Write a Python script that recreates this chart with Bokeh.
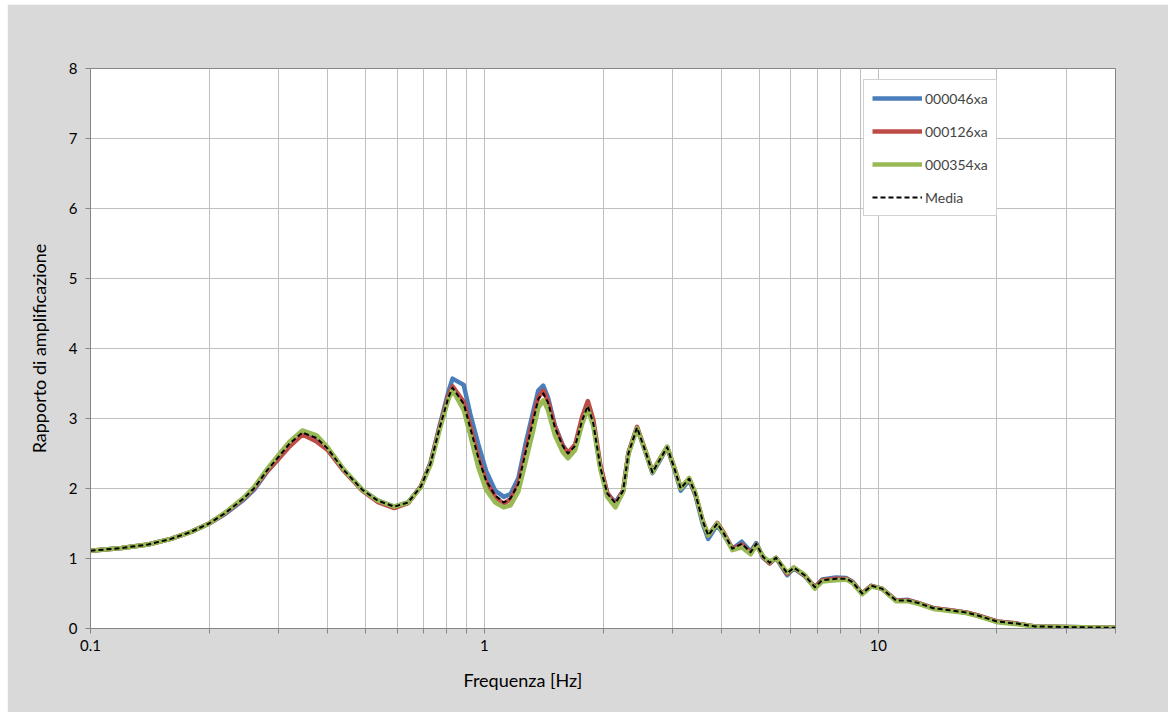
from bokeh.plotting import figure
from bokeh.models import FixedTicker, CustomJSTickFormatter, Legend, LegendItem, Title
from bokeh.embed import file_html
from bokeh.resources import INLINE

# ---- data ----
freq = [0.10, 0.12, 0.14, 0.16, 0.18, 0.20, 0.22, 0.245, 0.26, 0.28, 0.30, 0.32, 0.345, 0.375,
        0.40, 0.44, 0.49, 0.535, 0.59, 0.64, 0.69, 0.73, 0.77, 0.81, 0.83, 0.886, 0.92, 0.965,
        1.01, 1.065, 1.12, 1.165, 1.22, 1.27, 1.33, 1.37, 1.41, 1.45, 1.51, 1.58, 1.63, 1.70,
        1.77, 1.83, 1.89, 1.97, 2.05, 2.15, 2.25, 2.32, 2.44, 2.56, 2.67, 2.80, 2.91, 3.03,
        3.15, 3.31, 3.43, 3.58, 3.70, 3.90, 4.05, 4.26, 4.50, 4.74, 4.90, 5.10, 5.30, 5.50,
        5.87, 6.10, 6.50, 6.90, 7.20, 7.80, 8.30, 8.60, 9.10, 9.60, 10.2, 11.1, 11.9, 12.7,
        13.8, 15.2, 16.7, 17.8, 20.0, 22.5, 25.0, 30.0, 40.0]

media = [1.11, 1.15, 1.20, 1.28, 1.38, 1.50, 1.65, 1.86, 2.00, 2.25, 2.45, 2.64, 2.80, 2.72,
         2.57, 2.26, 1.98, 1.83, 1.74, 1.80, 2.03, 2.36, 2.87, 3.30, 3.44, 3.21, 2.87, 2.44,
         2.11, 1.90, 1.80, 1.86, 2.07, 2.50, 2.97, 3.28, 3.36, 3.23, 2.87, 2.61, 2.50, 2.61,
         2.97, 3.18, 2.93, 2.30, 1.93, 1.79, 1.97, 2.50, 2.87, 2.54, 2.23, 2.43, 2.59, 2.30,
         2.00, 2.14, 1.93, 1.54, 1.33, 1.50, 1.36, 1.14, 1.21, 1.09, 1.21, 1.02, 0.94, 1.01,
         0.79, 0.87, 0.76, 0.59, 0.69, 0.71, 0.71, 0.66, 0.50, 0.61, 0.57, 0.40, 0.40, 0.36,
         0.29, 0.26, 0.23, 0.19, 0.10, 0.07, 0.03, 0.02, 0.01]

s046 = [1.11, 1.15, 1.20, 1.28, 1.38, 1.50, 1.64, 1.84, 1.98, 2.23, 2.43, 2.62, 2.79, 2.72,
        2.57, 2.26, 1.98, 1.83, 1.74, 1.80, 2.03, 2.37, 2.90, 3.38, 3.57, 3.48, 3.07, 2.63,
        2.25, 1.97, 1.88, 1.92, 2.15, 2.62, 3.10, 3.40, 3.47, 3.30, 2.90, 2.62, 2.51, 2.60,
        2.95, 3.16, 2.92, 2.30, 1.93, 1.80, 1.97, 2.50, 2.87, 2.53, 2.22, 2.42, 2.59, 2.29,
        1.97, 2.12, 1.91, 1.50, 1.28, 1.48, 1.34, 1.14, 1.24, 1.10, 1.22, 1.01, 0.93, 1.01,
        0.76, 0.86, 0.75, 0.59, 0.70, 0.73, 0.72, 0.67, 0.50, 0.61, 0.57, 0.40, 0.41, 0.36,
        0.29, 0.26, 0.23, 0.19, 0.10, 0.07, 0.03, 0.02, 0.01]

s126 = [1.11, 1.15, 1.20, 1.28, 1.38, 1.50, 1.65, 1.86, 2.00, 2.24, 2.42, 2.60, 2.77, 2.67,
        2.55, 2.25, 1.97, 1.81, 1.72, 1.79, 2.03, 2.36, 2.88, 3.32, 3.46, 3.24, 2.90, 2.44,
        2.10, 1.88, 1.78, 1.85, 2.07, 2.50, 3.00, 3.30, 3.40, 3.25, 2.88, 2.61, 2.51, 2.63,
        3.02, 3.25, 2.98, 2.33, 1.94, 1.77, 1.97, 2.51, 2.88, 2.55, 2.24, 2.44, 2.59, 2.31,
        2.01, 2.14, 1.93, 1.55, 1.33, 1.51, 1.37, 1.14, 1.20, 1.08, 1.20, 1.02, 0.93, 1.01,
        0.78, 0.87, 0.76, 0.59, 0.69, 0.71, 0.71, 0.66, 0.50, 0.61, 0.57, 0.40, 0.40, 0.36,
        0.29, 0.26, 0.23, 0.19, 0.10, 0.07, 0.03, 0.02, 0.01]

s354 = [1.11, 1.15, 1.20, 1.28, 1.38, 1.50, 1.66, 1.87, 2.02, 2.27, 2.48, 2.67, 2.83, 2.76,
        2.59, 2.27, 1.98, 1.83, 1.74, 1.80, 2.02, 2.34, 2.84, 3.27, 3.41, 3.12, 2.77, 2.30,
        1.98, 1.80, 1.73, 1.76, 1.96, 2.36, 2.83, 3.15, 3.26, 3.12, 2.76, 2.52, 2.43, 2.55,
        2.92, 3.14, 2.89, 2.27, 1.88, 1.73, 1.95, 2.49, 2.86, 2.54, 2.23, 2.44, 2.60, 2.31,
        2.00, 2.15, 1.94, 1.54, 1.33, 1.50, 1.35, 1.12, 1.16, 1.06, 1.19, 1.03, 0.95, 1.01,
        0.80, 0.87, 0.77, 0.57, 0.67, 0.69, 0.70, 0.65, 0.49, 0.60, 0.57, 0.39, 0.39, 0.35,
        0.28, 0.25, 0.22, 0.18, 0.09, 0.06, 0.03, 0.02, 0.01]

series_names = ["000046xa", "000126xa", "000354xa", "Media"]
x_major = [0.1, 1, 10]
x_minor = [0.2, 0.3, 0.4, 0.5, 0.6, 0.7, 0.8, 0.9, 2, 3, 4, 5, 6, 7, 8, 9, 20, 30, 40]
y_ticks = [0, 1, 2, 3, 4, 5, 6, 7, 8]

FONT = "Lato"
GRID = "#bfbfbf"
AX = "#868686"

p = figure(x_axis_type="log", x_range=(0.1, 40), y_range=(0, 8),
           width=1161, height=708, frame_width=1025, frame_height=560,
           min_border_left=83, min_border_right=53, min_border_top=64, min_border_bottom=84,
           output_backend="svg", toolbar_location=None,
           background_fill_color="white", border_fill_color="#d9d9d9")
p.margin = (4, 0, 0, 7)

p.xaxis.ticker = FixedTicker(ticks=x_major, minor_ticks=x_minor)
p.yaxis.ticker = FixedTicker(ticks=y_ticks, minor_ticks=[])
p.xaxis.formatter = CustomJSTickFormatter(code="return String(Math.round(tick*1000)/1000);")

for ax in (p.xaxis, p.yaxis):
    ax.axis_line_color = AX
    ax.major_tick_line_color = AX
    ax.minor_tick_line_color = AX
    ax.major_tick_in = 0
    ax.major_tick_out = 5
    ax.minor_tick_in = 0
    ax.minor_tick_out = 5
    ax.major_label_text_font = FONT
    ax.major_label_text_font_size = "15px"
    ax.major_label_text_color = "#000000"
    ax.axis_label_text_font = FONT
    ax.axis_label_text_font_size = "18px"
    ax.axis_label_text_font_style = "normal"
    ax.axis_label_text_color = "#000000"
p.yaxis.minor_tick_line_color = None
p.xaxis.major_label_standoff = 6
p.yaxis.major_label_standoff = 8
p.yaxis.axis_label = "Rapporto di amplificazione"
p.yaxis.axis_label_standoff = 16

xtitle = Title(text="Frequenza [Hz]", align="left", offset=373, standoff=26,
               text_font=FONT, text_font_size="18px", text_font_style="normal",
               text_color="#000000")
p.add_layout(xtitle, "below")

p.xgrid.grid_line_color = GRID
p.xgrid.minor_grid_line_color = GRID
p.ygrid.grid_line_color = GRID
p.outline_line_color = AX

r1 = p.line(freq, s046, line_color="#4a7ebb", line_width=4.5, line_join="round")
r2 = p.line(freq, s126, line_color="#be4b48", line_width=4.5, line_join="round")
r3 = p.line(freq, s354, line_color="#98b954", line_width=4.5, line_join="round")
r4 = p.line(freq, media, line_color="#000000", line_width=2, line_dash="5 3", line_join="round")

legend = Legend(items=[LegendItem(label=n, renderers=[r]) for n, r in zip(series_names, [r1, r2, r3, r4])],
                location=(773, 412), glyph_width=50, glyph_height=20, label_height=20,
                spacing=13, padding=8, margin=0, label_standoff=3,
                label_text_font=FONT, label_text_font_size="14px",
                border_line_color="#a6a6a6", background_fill_color="white", background_fill_alpha=1)
p.add_layout(legend)

open("out.html", "w").write(file_html(p, INLINE))
